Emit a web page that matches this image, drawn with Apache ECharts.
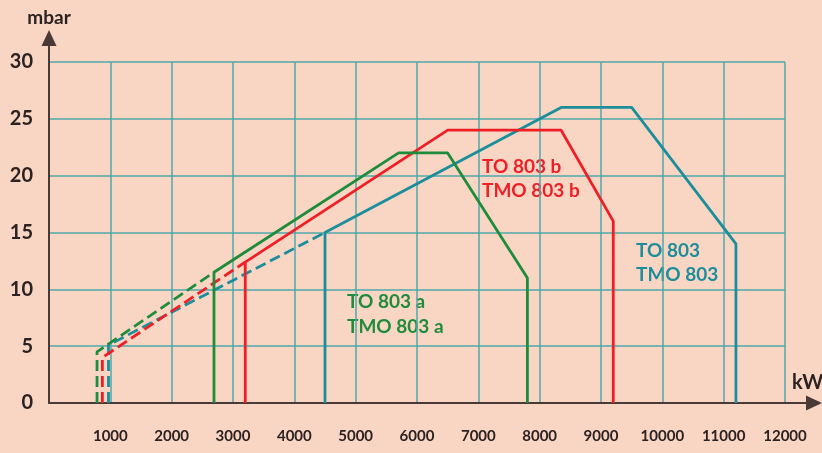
<!DOCTYPE html>
<html>
<head>
<meta charset="utf-8">
<script src="https://cdn.jsdelivr.net/npm/echarts@6/dist/echarts.min.js"></script>
<style>
html,body{margin:0;padding:0;background:#f9d5c4;}
#c{width:822px;height:453px;}
</style>
</head>
<body>
<div id="c"></div>
<script>
// X ticks (kW) and Y ticks (mbar)
var xTicks = [0,1000,2000,3000,4000,5000,6000,7000,8000,9000,10000,11000,12000];
var yTicks = [0,5,10,15,20,25,30];

// TO 803 a / TMO 803 a (green)
var greenDashed = [[783,0],[783,4.5],[2690,11.5]];
var greenSolid  = [[2690,0],[2690,11.5],[5700,22],[6500,22],[7800,11],[7800,0]];
// TO 803 b / TMO 803 b (red)
var redDashed = [[870,0],[870,4],[3200,12.4]];
var redSolid  = [[3200,0],[3200,12.4],[6500,24],[8350,24],[9200,16],[9200,0]];
// TO 803 / TMO 803 (teal)
var tealDashed = [[970,0],[970,5.1],[4500,15]];
var tealSolid  = [[4500,0],[4500,15],[8350,26],[9500,26],[11200,14],[11200,0]];

var GREEN='#1f8c3b', RED='#ee2026', TEAL='#1c8e9b', TXT='#2b2221', GRID='#4ea8aa';
var FONT="Lato, 'Open Sans', sans-serif";

function line(data,color,dashed){
  return {type:'line',data:data,xAxisIndex:0,yAxisIndex:0,symbol:'none',animation:false,
    lineStyle:{color:color,width:2.8,type:dashed?[11,5]:'solid'},z:3};
}

var chart = echarts.init(document.getElementById('c'));
chart.setOption({
  backgroundColor:'#f9d5c4',
  textStyle:{fontFamily:FONT},
  grid:[
    {left:49,top:62,right:37,bottom:50},
    {left:49,top:38,right:8,bottom:50}
  ],
  xAxis:[
    {type:'value',gridIndex:0,min:xTicks[0],max:xTicks[xTicks.length-1],interval:1000,
     axisLine:{show:false},axisTick:{show:false},
     axisLabel:{margin:26,fontSize:15,fontWeight:'bold',color:TXT,fontFamily:FONT,
       formatter:function(v){return v===0?'':String(v);}},
     splitLine:{show:true,lineStyle:{color:GRID,width:1.5}}},
    {type:'value',gridIndex:1,min:0,max:1,
     axisLine:{show:true,symbol:['none','triangle'],symbolSize:[15,16],lineStyle:{color:'#4a3a36',width:2}},
     axisTick:{show:false},axisLabel:{show:false},splitLine:{show:false}}
  ],
  yAxis:[
    {type:'value',gridIndex:0,min:yTicks[0],max:yTicks[yTicks.length-1],interval:5,
     axisLine:{show:false},axisTick:{show:false},
     axisLabel:{margin:16,fontSize:20,color:TXT,fontFamily:FONT,fontWeight:'bold'},
     splitLine:{show:true,lineStyle:{color:GRID,width:1.5}}},
    {type:'value',gridIndex:1,min:0,max:1,
     name:'mbar',nameLocation:'end',nameGap:11,
     nameTextStyle:{fontSize:19,fontWeight:'bold',color:TXT,fontFamily:FONT},
     axisLine:{show:true,symbol:['none','triangle'],symbolSize:[15,16],lineStyle:{color:'#4a3a36',width:2}},
     axisTick:{show:false},axisLabel:{show:false},splitLine:{show:false}}
  ],
  series:[
    line(tealDashed,TEAL,true), line(tealSolid,TEAL,false),
    line(redDashed,RED,true), line(redSolid,RED,false),
    line(greenDashed,GREEN,true), line(greenSolid,GREEN,false)
  ],
  graphic:[
    {type:'text',left:792,top:373,style:{text:'kW',font:"bold 20px "+FONT,fill:TXT}},
    {type:'text',left:347,top:289,style:{text:'TO 803 a\nTMO 803 a',font:"bold 19px "+FONT,fill:GREEN,lineHeight:25}},
    {type:'text',left:482,top:155,style:{text:'TO 803 b\nTMO 803 b',font:"bold 19px "+FONT,fill:RED,lineHeight:24}},
    {type:'text',left:636,top:239,style:{text:'TO 803\nTMO 803',font:"bold 19px "+FONT,fill:TEAL,lineHeight:24}}
  ]
});
</script>
</body>
</html>
